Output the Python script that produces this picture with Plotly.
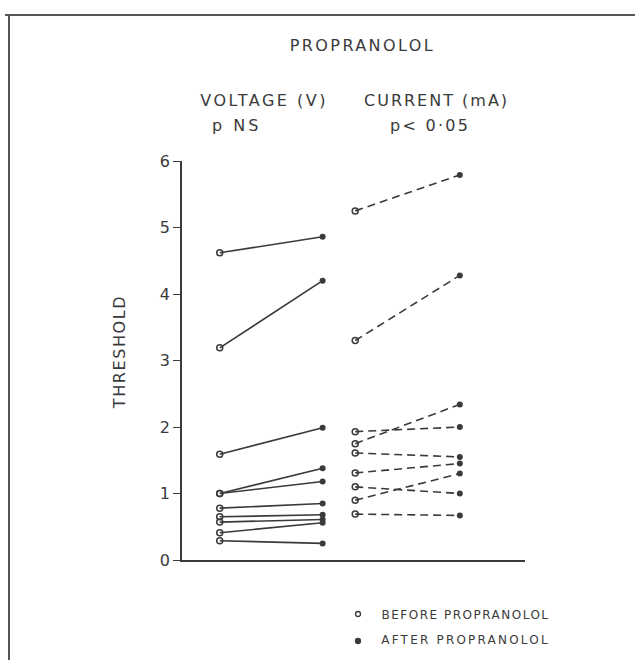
import plotly.graph_objects as go
import json

# Data
voltage_before = [4.62, 3.19, 1.59, 1.00, 1.00, 0.78, 0.65, 0.57, 0.41, 0.29]
voltage_after = [4.86, 4.20, 1.99, 1.38, 1.18, 0.85, 0.68, 0.61, 0.56, 0.25]
current_before = [5.25, 3.30, 1.93, 1.75, 1.61, 1.31, 1.10, 0.90, 0.69]
current_after = [5.79, 4.28, 2.00, 2.34, 1.55, 1.45, 1.00, 1.30, 0.67]
y_ticks = [0, 1, 2, 3, 4, 5, 6]

W, H = 635, 660
ML, MR, MT, MB = 182, 110, 161, 100
PW, PH = W - ML - MR, H - MT - MB

# x positions of the groups (layout)
XV_B, XV_A, XC_B, XC_A = 1.1, 4.1, 5.05, 8.1

ink = "#3a3a3a"
font = "DejaVu Sans"


def px(x, y):
    """pixel -> paper coords (relative to plot area)"""
    return (x - ML) / PW, 1 - (y - MT) / PH


fig = go.Figure()

for b, a in zip(voltage_before, voltage_after):
    fig.add_trace(go.Scatter(x=[XV_B, XV_A], y=[b, a], mode="lines",
                             line=dict(color=ink, width=1.6), showlegend=False, hoverinfo="skip"))
for b, a in zip(current_before, current_after):
    fig.add_trace(go.Scatter(x=[XC_B, XC_A], y=[b, a], mode="lines",
                             line=dict(color=ink, width=1.6, dash="8px,5px"), showlegend=False, hoverinfo="skip"))

fig.add_trace(go.Scatter(x=[XV_B] * len(voltage_before) + [XC_B] * len(current_before),
                         y=voltage_before + current_before, mode="markers",
                         marker=dict(symbol="circle-open", size=6, color=ink, line=dict(width=1.5)),
                         showlegend=False))
fig.add_trace(go.Scatter(x=[XV_A] * len(voltage_after) + [XC_A] * len(current_after),
                         y=voltage_after + current_after, mode="markers",
                         marker=dict(symbol="circle", size=6, color=ink),
                         showlegend=False))

fig.update_layout(
    width=W, height=H,
    margin=dict(l=ML, r=MR, t=MT, b=MB, autoexpand=False),
    paper_bgcolor="white", plot_bgcolor="white",
    font=dict(family=font, color=ink),
    hovermode=False,
    xaxis=dict(range=[0, 10], showgrid=False, zeroline=False, showticklabels=False,
               showline=True, linecolor=ink, linewidth=1.6, ticks="", automargin=False),
    yaxis=dict(range=[0, 6], tickvals=y_ticks, showgrid=False, zeroline=False,
               showline=True, linecolor=ink, linewidth=1.6, ticks="outside",
               ticklen=7, tickcolor=ink, tickwidth=1.4, automargin=False,
               tickfont=dict(size=16, color=ink, family=font)),
    showlegend=False,
)

# text: (text, centre x px, centre y px, size, letter spacing px, angle)
texts = [
    ("PROPRANOLOL", 362, 45, 16, 2.4, 0),
    ("VOLTAGE (V)", 264, 100, 16, 2.5, 0),
    ("p NS", 236, 126, 16, 3.0, 0),
    ("CURRENT (mA)", 436, 100, 16, 2.0, 0),
    ("p< 0·05", 430, 126, 16, 2.3, 0),
    ("THRESHOLD", 119, 352, 16, 1.6, -90),
    ("BEFORE PROPRANOLOL", 465, 615, 12, 1.5, 0),
    ("AFTER PROPRANOLOL", 465, 640, 12, 2.2, 0),
]
spacing = {}
for t, x, y, s, ls, ang in texts:
    ax, ay = px(x, y)
    fig.add_annotation(text=t, x=ax, y=ay, xref="paper", yref="paper", showarrow=False,
                       textangle=ang, font=dict(size=s, color=ink, family=font),
                       xanchor="center", yanchor="middle")
    spacing[t] = ls

# legend symbols
for y, filled in [(614, False), (641, True)]:
    cx, cy = px(358, y)
    fig.add_shape(type="circle", xref="paper", yref="paper", xsizemode="pixel", ysizemode="pixel",
                  xanchor=cx, yanchor=cy, x0=-2.5, x1=2.5, y0=-2.5, y1=2.5,
                  line=dict(color=ink, width=1.3), fillcolor=ink if filled else "white")

# page border from scan
x0, y0 = px(5, 15)
x1, _ = px(635, 15)
fig.add_shape(type="line", xref="paper", yref="paper", x0=x0, x1=x1, y0=y0, y1=y0,
              line=dict(color="#555", width=2))
lx0, ly0 = px(9, 15)
_, ly1b = px(9, 660)
fig.add_shape(type="line", xref="paper", yref="paper", x0=lx0, x1=lx0, y0=ly0, y1=ly1b,
              line=dict(color="#555", width=2))

post = """
document.body.style.margin='0';
var sp = %s;
document.querySelectorAll('text.annotation-text').forEach(function(t){
  var k = t.textContent;
  if (sp[k] !== undefined) { t.style.letterSpacing = sp[k] + 'px'; }
});
""" % json.dumps(spacing, ensure_ascii=False)

fig.write_html("out.html", post_script=post, config={"displayModeBar": False})
